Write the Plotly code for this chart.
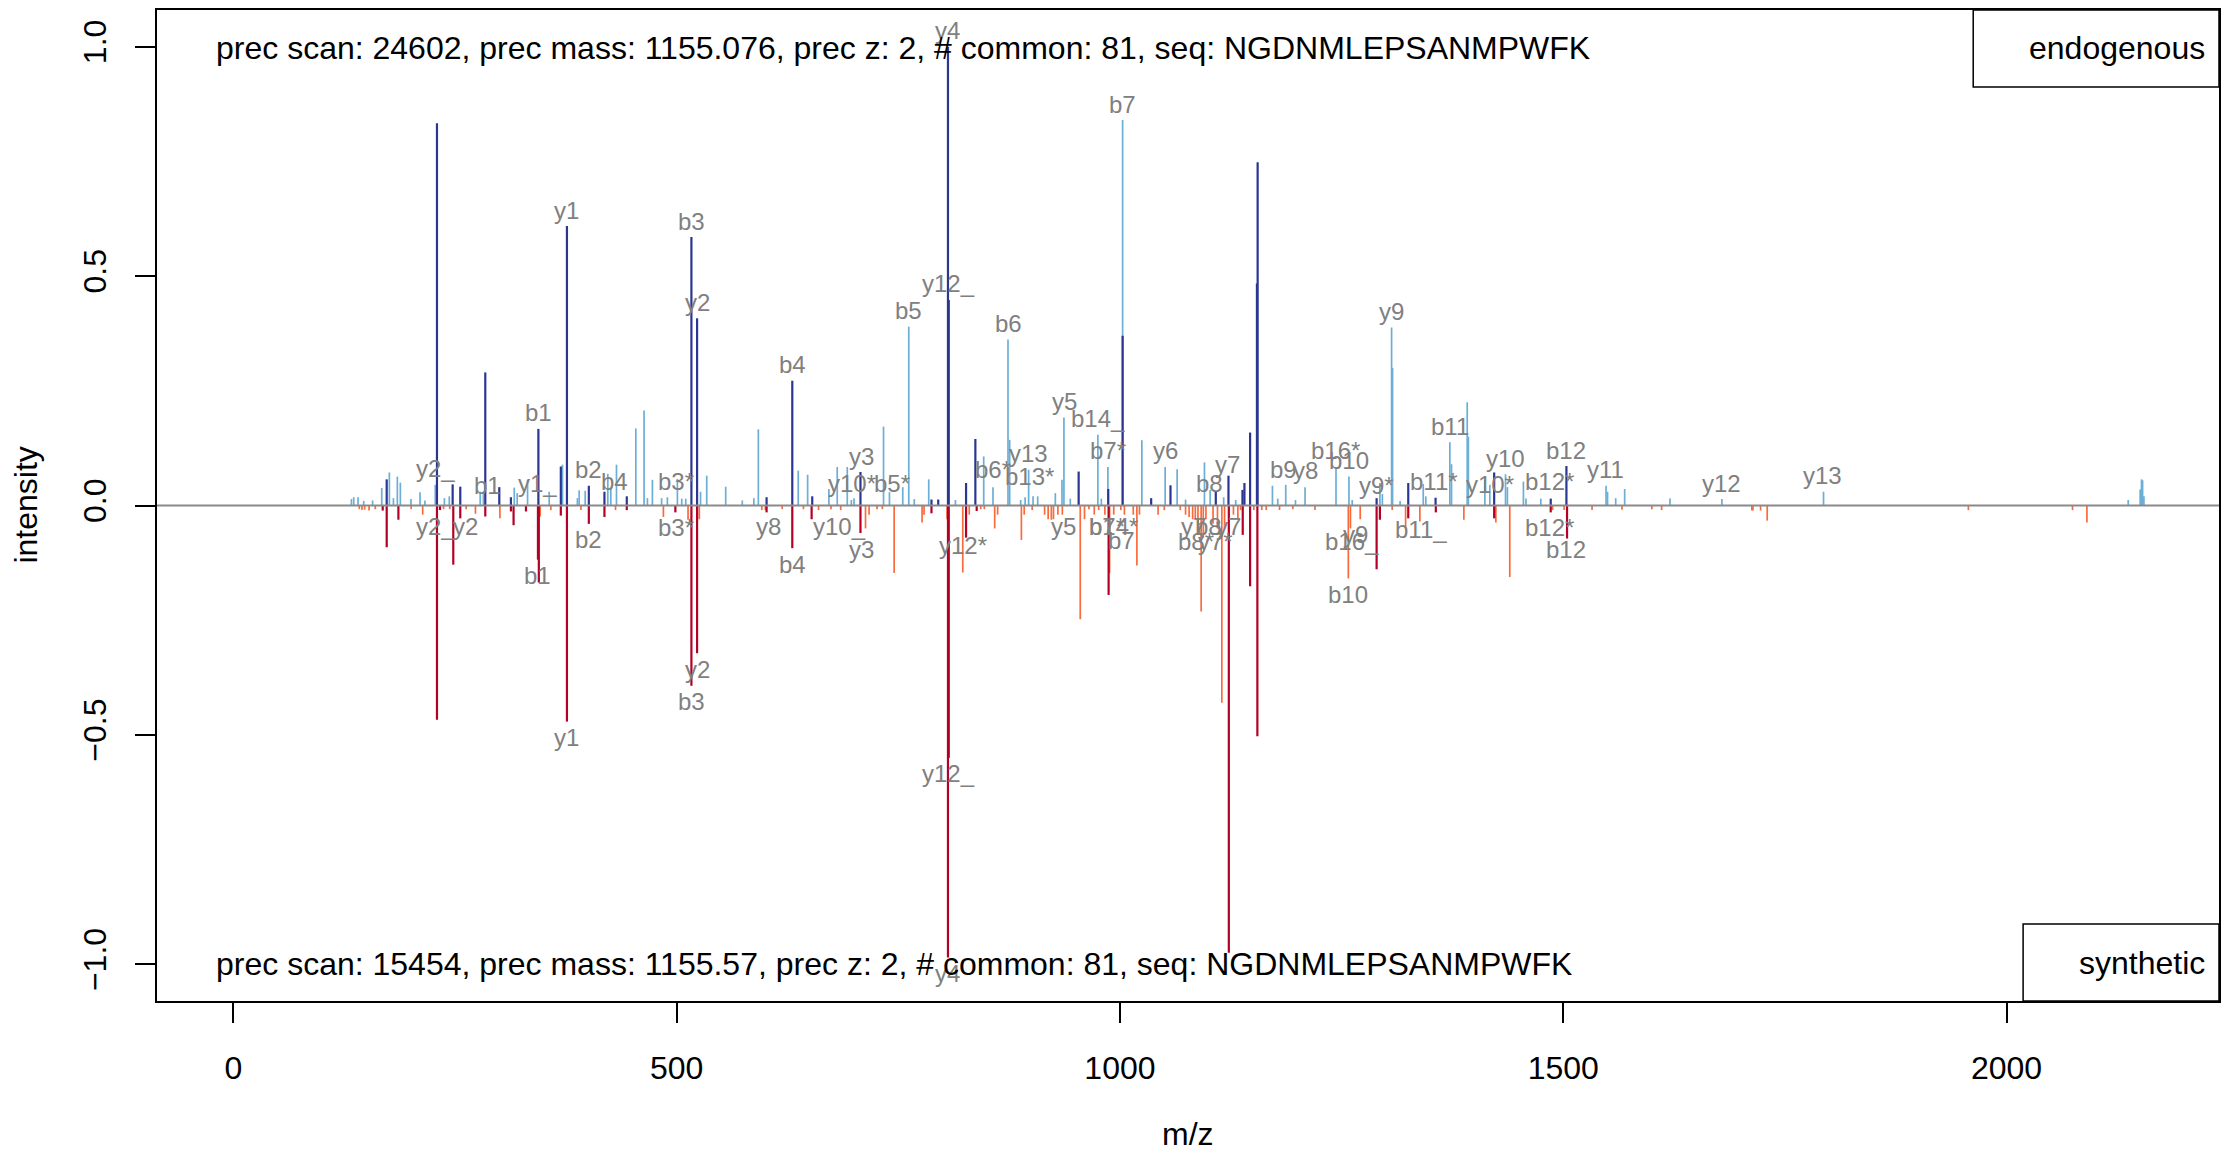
import plotly.graph_objects as go

# ---------------- data ----------------
endo_matched_mz = [172.9, 229.6, 247.3, 255.9, 284.1, 299.9, 313.0, 344.0, 369.3, 376.2, 400.9, 418.5, 443.7,
                   516.6, 523.0, 601.4, 630.4, 652.9, 707.3, 787.4, 795.0, 806.0, 806.9, 826.4, 836.9, 953.4,
                   986.8, 1003.0, 1035.2, 1057.0, 1108.1, 1122.4, 1138.2, 1140.4, 1146.8, 1154.5, 1155.3,
                   1289.5, 1325.2, 1356.0, 1422.1, 1485.9, 1503.6]
endo_matched_int = [0.057, 0.833, 0.046, 0.041, 0.29, 0.04, 0.018, 0.167, 0.085, 0.609, 0.043, 0.03, 0.02,
                    0.585, 0.408, 0.018, 0.272, 0.02, 0.073, 0.013, 0.013, 1.0, 0.448, 0.049, 0.145, 0.074,
                    0.036, 0.37, 0.016, 0.044, 0.03, 0.065, 0.034, 0.049, 0.159, 0.484, 0.748,
                    0.016, 0.049, 0.017, 0.072, 0.015, 0.086]

endo_other_mz = [133.1, 135.7, 140.6, 147.0, 157.0, 167.3, 175.9, 180.5, 184.9, 188.3, 200.3, 210.5, 216.0,
                 227.7, 238.0, 243.5, 278.4, 282.0, 316.8, 320.1, 331.8, 356.2, 371.2, 388.0, 390.0, 396.8,
                 422.3, 425.7, 432.1, 453.9, 463.2, 467.0, 472.6, 483.0, 489.5, 500.8, 505.7, 510.2, 526.9,
                 533.9, 555.3, 574.0, 587.0, 592.1, 637.1, 647.7, 671.7, 681.1, 692.4,
                 697.0, 700.0, 733.3, 740.0, 755.0, 761.8, 768.0, 784.3, 814.4, 846.3, 856.8, 873.7, 875.6,
                 888.0, 893.0, 897.0, 902.0, 907.2, 927.1, 934.6, 936.8, 944.0, 975.1, 979.0, 986.4, 1003.0,
                 1024.7, 1051.0, 1064.5, 1074.0, 1095.3, 1101.7, 1117.0, 1130.6, 1172.0, 1178.0, 1187.0,
                 1198.0, 1208.8, 1243.7, 1258.3, 1262.0,
                 1293.2, 1296.0, 1306.4, 1307.5, 1316.0, 1342.1, 1345.0, 1372.1, 1374.0, 1391.7, 1393.0,
                 1411.6, 1417.2, 1434.9, 1437.0, 1455.1, 1458.0, 1474.7, 1548.3, 1550.0, 1559.2, 1569.3,
                 1620.4, 1679.0, 1793.6, 2137.3, 2150.8, 2152.3, 2153.5, 2155.0]
endo_other_int = [0.014, 0.018, 0.018, 0.01, 0.011, 0.038, 0.072, 0.016, 0.063, 0.05, 0.014, 0.029, 0.011,
                  0.045, 0.016, 0.02, 0.03, 0.025, 0.039, 0.027, 0.056, 0.03, 0.089, 0.016, 0.033, 0.032,
                  0.069, 0.038, 0.089, 0.168, 0.207, 0.016, 0.056, 0.016, 0.018, 0.058, 0.015, 0.015, 0.03,
                  0.065, 0.041, 0.011, 0.016, 0.166, 0.076, 0.067, 0.036, 0.084, 0.084,
                  0.012, 0.016, 0.172, 0.029, 0.04, 0.39, 0.014, 0.057, 0.012, 0.107, 0.04, 0.362, 0.143,
                  0.012, 0.018, 0.078, 0.02, 0.02, 0.027, 0.056, 0.192, 0.015, 0.154, 0.015, 0.084, 0.84,
                  0.142, 0.084, 0.079, 0.013, 0.094, 0.034, 0.018, 0.012, 0.043, 0.015, 0.045,
                  0.012, 0.04, 0.084, 0.063, 0.012,
                  0.049, 0.025, 0.388, 0.30, 0.01, 0.047, 0.02, 0.138, 0.09, 0.225, 0.15,
                  0.056, 0.045, 0.068, 0.04, 0.052, 0.015, 0.015, 0.043, 0.03, 0.016, 0.036,
                  0.015, 0.014, 0.03, 0.012, 0.035, 0.057, 0.055, 0.02]

syn_matched_mz = [168.4, 172.9, 186.1, 229.6, 233.0, 248.0, 255.9, 284.1, 313.0, 316.0, 330.0, 343.5, 344.5,
                  369.3, 376.2, 400.9, 418.5, 443.7, 498.5, 516.6, 523.0, 601.4, 630.4, 652.2, 707.3, 787.4,
                  806.0, 806.9, 826.4, 838.4, 987.2, 1122.8, 1138.5, 1146.8, 1155.0, 1289.5, 1293.2,
                  1325.2, 1356.3, 1422.1, 1485.9, 1504.3]
syn_matched_int = [-0.011, -0.091, -0.031, -0.467, -0.01, -0.129, -0.028, -0.024, -0.013, -0.043, -0.013,
                   -0.118, -0.168, -0.022, -0.471, -0.04, -0.025, -0.01, -0.015, -0.393, -0.322, -0.015,
                   -0.093, -0.03, -0.06, -0.017, -0.985, -0.55, -0.07, -0.012, -0.195, -0.975, -0.064,
                   -0.176, -0.503, -0.139, -0.031, -0.028, -0.015, -0.028, -0.015, -0.072]

syn_other_mz = [142.0, 145.0, 148.0, 153.0, 160.0, 200.5, 213.5, 237.0, 244.0, 262.5, 273.0, 300.6, 346.0,
                358.0, 392.0, 431.0, 485.0, 512.8, 525.5, 596.0, 600.0, 619.0, 643.0, 660.0, 674.0, 685.0,
                713.0, 717.0, 726.0, 732.0, 745.3, 776.8, 779.0, 805.0, 822.7, 830.0, 843.0, 847.0, 858.7,
                862.0, 888.8, 892.0, 901.0, 915.0, 919.0, 922.6, 925.0, 930.0, 935.0, 955.2, 960.0, 965.0,
                971.0, 976.0, 983.0, 988.3, 993.0, 1001.0, 1005.0, 1015.0, 1019.1, 1022.0, 1043.0, 1050.0,
                1068.0, 1074.0, 1078.0, 1082.0, 1085.0, 1088.0, 1091.6, 1094.0, 1097.0, 1105.0, 1110.0,
                1114.9, 1118.0, 1128.0, 1133.0, 1136.0, 1151.0, 1160.0, 1165.0, 1180.0, 1195.0, 1220.0,
                1257.6, 1260.0, 1271.0, 1307.1, 1322.2, 1338.3, 1387.9, 1424.0, 1439.7, 1488.0, 1501.0,
                1532.5, 1566.3, 1600.0, 1611.0, 1712.8, 1714.0, 1722.6, 1730.1, 1957.0, 2074.5, 2090.7]
syn_other_int = [-0.008, -0.01, -0.009, -0.011, -0.008, -0.008, -0.02, -0.008, -0.008, -0.008, -0.018,
                 -0.028, -0.024, -0.01, -0.01, -0.01, -0.025, -0.031, -0.03, -0.01, -0.01, -0.008, -0.008,
                 -0.01, -0.008, -0.01,
                 -0.05, -0.02, -0.008, -0.008, -0.147, -0.037, -0.02, -0.03, -0.146, -0.02, -0.008, -0.008,
                 -0.05, -0.02, -0.075, -0.02, -0.01, -0.02, -0.03, -0.031, -0.03, -0.02, -0.02, -0.248,
                 -0.03, -0.008, -0.02, -0.01, -0.02, -0.147, -0.02, -0.01, -0.02, -0.02, -0.131, -0.02,
                 -0.02, -0.01, -0.01, -0.02, -0.025, -0.03, -0.03, -0.05, -0.231, -0.07, -0.03, -0.04,
                 -0.05, -0.43, -0.05, -0.02, -0.03, -0.01, -0.01, -0.01, -0.01, -0.01, -0.008, -0.01,
                 -0.159, -0.05, -0.03, -0.01, -0.046, -0.035, -0.031, -0.037, -0.156, -0.01, -0.01,
                 -0.01, -0.009, -0.008, -0.01, -0.011, -0.011, -0.011, -0.033, -0.01, -0.01, -0.037]

top_label_text = ["y4", "b7", "y1", "b3", "y12_", "y2", "y9", "b5", "b6", "b4", "y5", "b1", "b14_", "b11",
                  "b7*", "y6", "y13", "b16*", "b10", "y10", "b12", "y3", "y7", "b9", "y8", "y11", "b6*",
                  "b2", "y2_", "y13", "b1", "y1_", "b4", "b3*", "y10*", "b5*", "b13*", "b8", "y9*",
                  "b11*", "y10*", "b12*", "y12"]
top_label_mz = [806.0, 1003.0, 376.2, 516.6, 807.0, 523.0, 1306.0, 761.0, 874.0, 630.4, 937.0, 344.0, 975.0,
                1372.0, 986.0, 1051.0, 897.0, 1243.0, 1258.0, 1435.0, 1503.6, 708.0, 1121.0, 1185.0, 1209.0,
                1548.0, 857.0, 401.0, 228.5, 1793.0, 286.5, 343.4, 430.0, 499.0, 698.0, 743.0, 898.0,
                1100.6, 1289.5, 1354.5, 1417.2, 1484.8, 1679.0]
top_label_int = [1.0, 0.84, 0.609, 0.585, 0.448, 0.408, 0.388, 0.39, 0.362, 0.272, 0.192, 0.167, 0.154,
                 0.138, 0.084, 0.084, 0.078, 0.084, 0.063, 0.068, 0.086, 0.073, 0.054, 0.044, 0.042, 0.043,
                 0.043, 0.043, 0.045, 0.03, 0.008, 0.012, 0.018, 0.018, 0.012, 0.014, 0.028, 0.012, 0.008,
                 0.018, 0.01, 0.018, 0.014]

bottom_label_text = ["y4", "y12_", "y1", "b3", "y2", "b1", "b2", "y2_", "y2", "b3*", "y8", "b4", "y10_",
                     "y3", "y12*", "y5", "b7*", "b14*", "b7", "y7", "b8", "y7", "b8*", "y7*", "b10", "b16_",
                     "y9", "b11_", "b12*", "b12"]
bottom_label_mz = [806.0, 807.0, 376.2, 516.6, 523.0, 343.5, 400.5, 228.5, 261.5, 499.0, 604.0, 630.4, 684.0,
                   709.0, 823.0, 936.5, 985.0, 993.0, 1002.0, 1083.0, 1100.0, 1122.0, 1086.0, 1108.0, 1257.6,
                   1262.0, 1266.0, 1339.4, 1484.8, 1503.6]
bottom_label_int = [-0.985, -0.55, -0.471, -0.393, -0.322, -0.118, -0.04, -0.011, -0.011, -0.014, -0.011,
                    -0.093, -0.011, -0.062, -0.052, -0.011, -0.011, -0.011, -0.041, -0.011, -0.011, -0.011,
                    -0.044, -0.044, -0.159, -0.044, -0.029, -0.018, -0.014, -0.062]

x_ticks = [0, 500, 1000, 1500, 2000]
y_ticks = [-1.0, -0.5, 0.0, 0.5, 1.0]

top_text = "prec scan: 24602, prec mass: 1155.076, prec z: 2, # common: 81, seq: NGDNMLEPSANMPWFK"
bottom_text = "prec scan: 15454, prec mass: 1155.57, prec z: 2, # common: 81, seq: NGDNMLEPSANMPWFK"

# ---------------- styling ----------------
FONT = "Liberation Sans, Arial, Helvetica, sans-serif"
C_LIGHT_BLUE = "#6BAED6"
C_DARK_BLUE = "#2B3592"
C_ORANGE = "#FA6B3C"
C_DARK_RED = "#B30026"
C_LABEL = "#808080"


def sticks(mz, inten):
    xs, ys = [], []
    for m, v in zip(mz, inten):
        xs += [m, m, None]
        ys += [0, v, None]
    return xs, ys


fig = go.Figure()
for mz, inten, col, w in [(endo_other_mz, endo_other_int, C_LIGHT_BLUE, 1.7),
                          (syn_other_mz, syn_other_int, C_ORANGE, 1.7),
                          (endo_matched_mz, endo_matched_int, C_DARK_BLUE, 2.2),
                          (syn_matched_mz, syn_matched_int, C_DARK_RED, 2.2)]:
    xs, ys = sticks(mz, inten)
    fig.add_trace(go.Scatter(x=xs, y=ys, mode="lines", line=dict(color=col, width=w),
                             hoverinfo="skip", showlegend=False))

annotations = []
for t, m, v in zip(top_label_text, top_label_mz, top_label_int):
    annotations.append(dict(x=m, y=v, xref="x", yref="y", text=t, showarrow=False, yanchor="middle",
                            xanchor="center", yshift=16, font=dict(family=FONT, size=24, color=C_LABEL)))
for t, m, v in zip(bottom_label_text, bottom_label_mz, bottom_label_int):
    annotations.append(dict(x=m, y=v, xref="x", yref="y", text=t, showarrow=False, yanchor="middle",
                            xanchor="center", yshift=-16, font=dict(family=FONT, size=24, color=C_LABEL)))

annotations += [
    dict(x=0.0276, y=0.9617, xref="paper", yref="paper", text=top_text, showarrow=False,
         xanchor="left", yanchor="middle", font=dict(family=FONT, size=32, color="black")),
    dict(x=0.0276, y=0.0373, xref="paper", yref="paper", text=bottom_text, showarrow=False,
         xanchor="left", yanchor="middle", font=dict(family=FONT, size=32, color="black")),
    dict(x=0.994, y=0.9617, xref="paper", yref="paper", text="endogenous", showarrow=False,
         xanchor="right", yanchor="middle", font=dict(family=FONT, size=32, color="black")),
    dict(x=0.994, y=0.038, xref="paper", yref="paper", text="synthetic", showarrow=False,
         xanchor="right", yanchor="middle", font=dict(family=FONT, size=32, color="black")),
    dict(x=0.5, y=-0.1345, xref="paper", yref="paper", text="m/z", showarrow=False,
         xanchor="center", yanchor="middle", font=dict(family=FONT, size=32, color="black")),
    dict(x=-0.064, y=0.5, xref="paper", yref="paper", text="intensity", showarrow=False, textangle=-90,
         xanchor="center", yanchor="middle", font=dict(family=FONT, size=32, color="black")),
]

shapes = [
    dict(type="line", xref="paper", yref="y", x0=0, x1=1, y0=0, y1=0,
         line=dict(color="#8A8A8A", width=2), layer="above"),
    dict(type="rect", xref="paper", yref="paper", x0=0.8808, x1=1.0, y0=0.9223, y1=1.0,
         line=dict(color="black", width=1.5)),
    dict(type="rect", xref="paper", yref="paper", x0=0.905, x1=1.0, y0=0.0, y1=0.0777,
         line=dict(color="black", width=1.5)),
]

fig.update_layout(
    width=2223, height=1152,
    margin=dict(l=157, r=2, t=10, b=151, pad=0),
    paper_bgcolor="white", plot_bgcolor="white",
    annotations=annotations, shapes=shapes,
    hovermode=False,
    font=dict(family=FONT, size=32, color="black"),
)
fig.update_xaxes(range=[-86.2, 2239.7], tickvals=x_ticks, ticks="outside", ticklen=20, tickwidth=1.5,
                 tickcolor="black", showline=True, mirror=True, linecolor="black", linewidth=1.5,
                 showgrid=False, zeroline=False, ticklabelstandoff=18,
                 tickfont=dict(family=FONT, size=32, color="black"))
fig.update_yaxes(range=[-1.08, 1.08], tickvals=y_ticks, tickformat=".1f", ticks="outside", ticklen=20,
                 tickwidth=1.5, tickcolor="black", showline=True, mirror=True, linecolor="black",
                 linewidth=1.5, showgrid=False, zeroline=False, tickangle=-90, ticklabelstandoff=16,
                 tickfont=dict(family=FONT, size=32, color="black"))

fig.write_html("out.html", config={"displayModeBar": False},
               post_script="document.body.style.margin='0';document.body.style.overflow='hidden';")
